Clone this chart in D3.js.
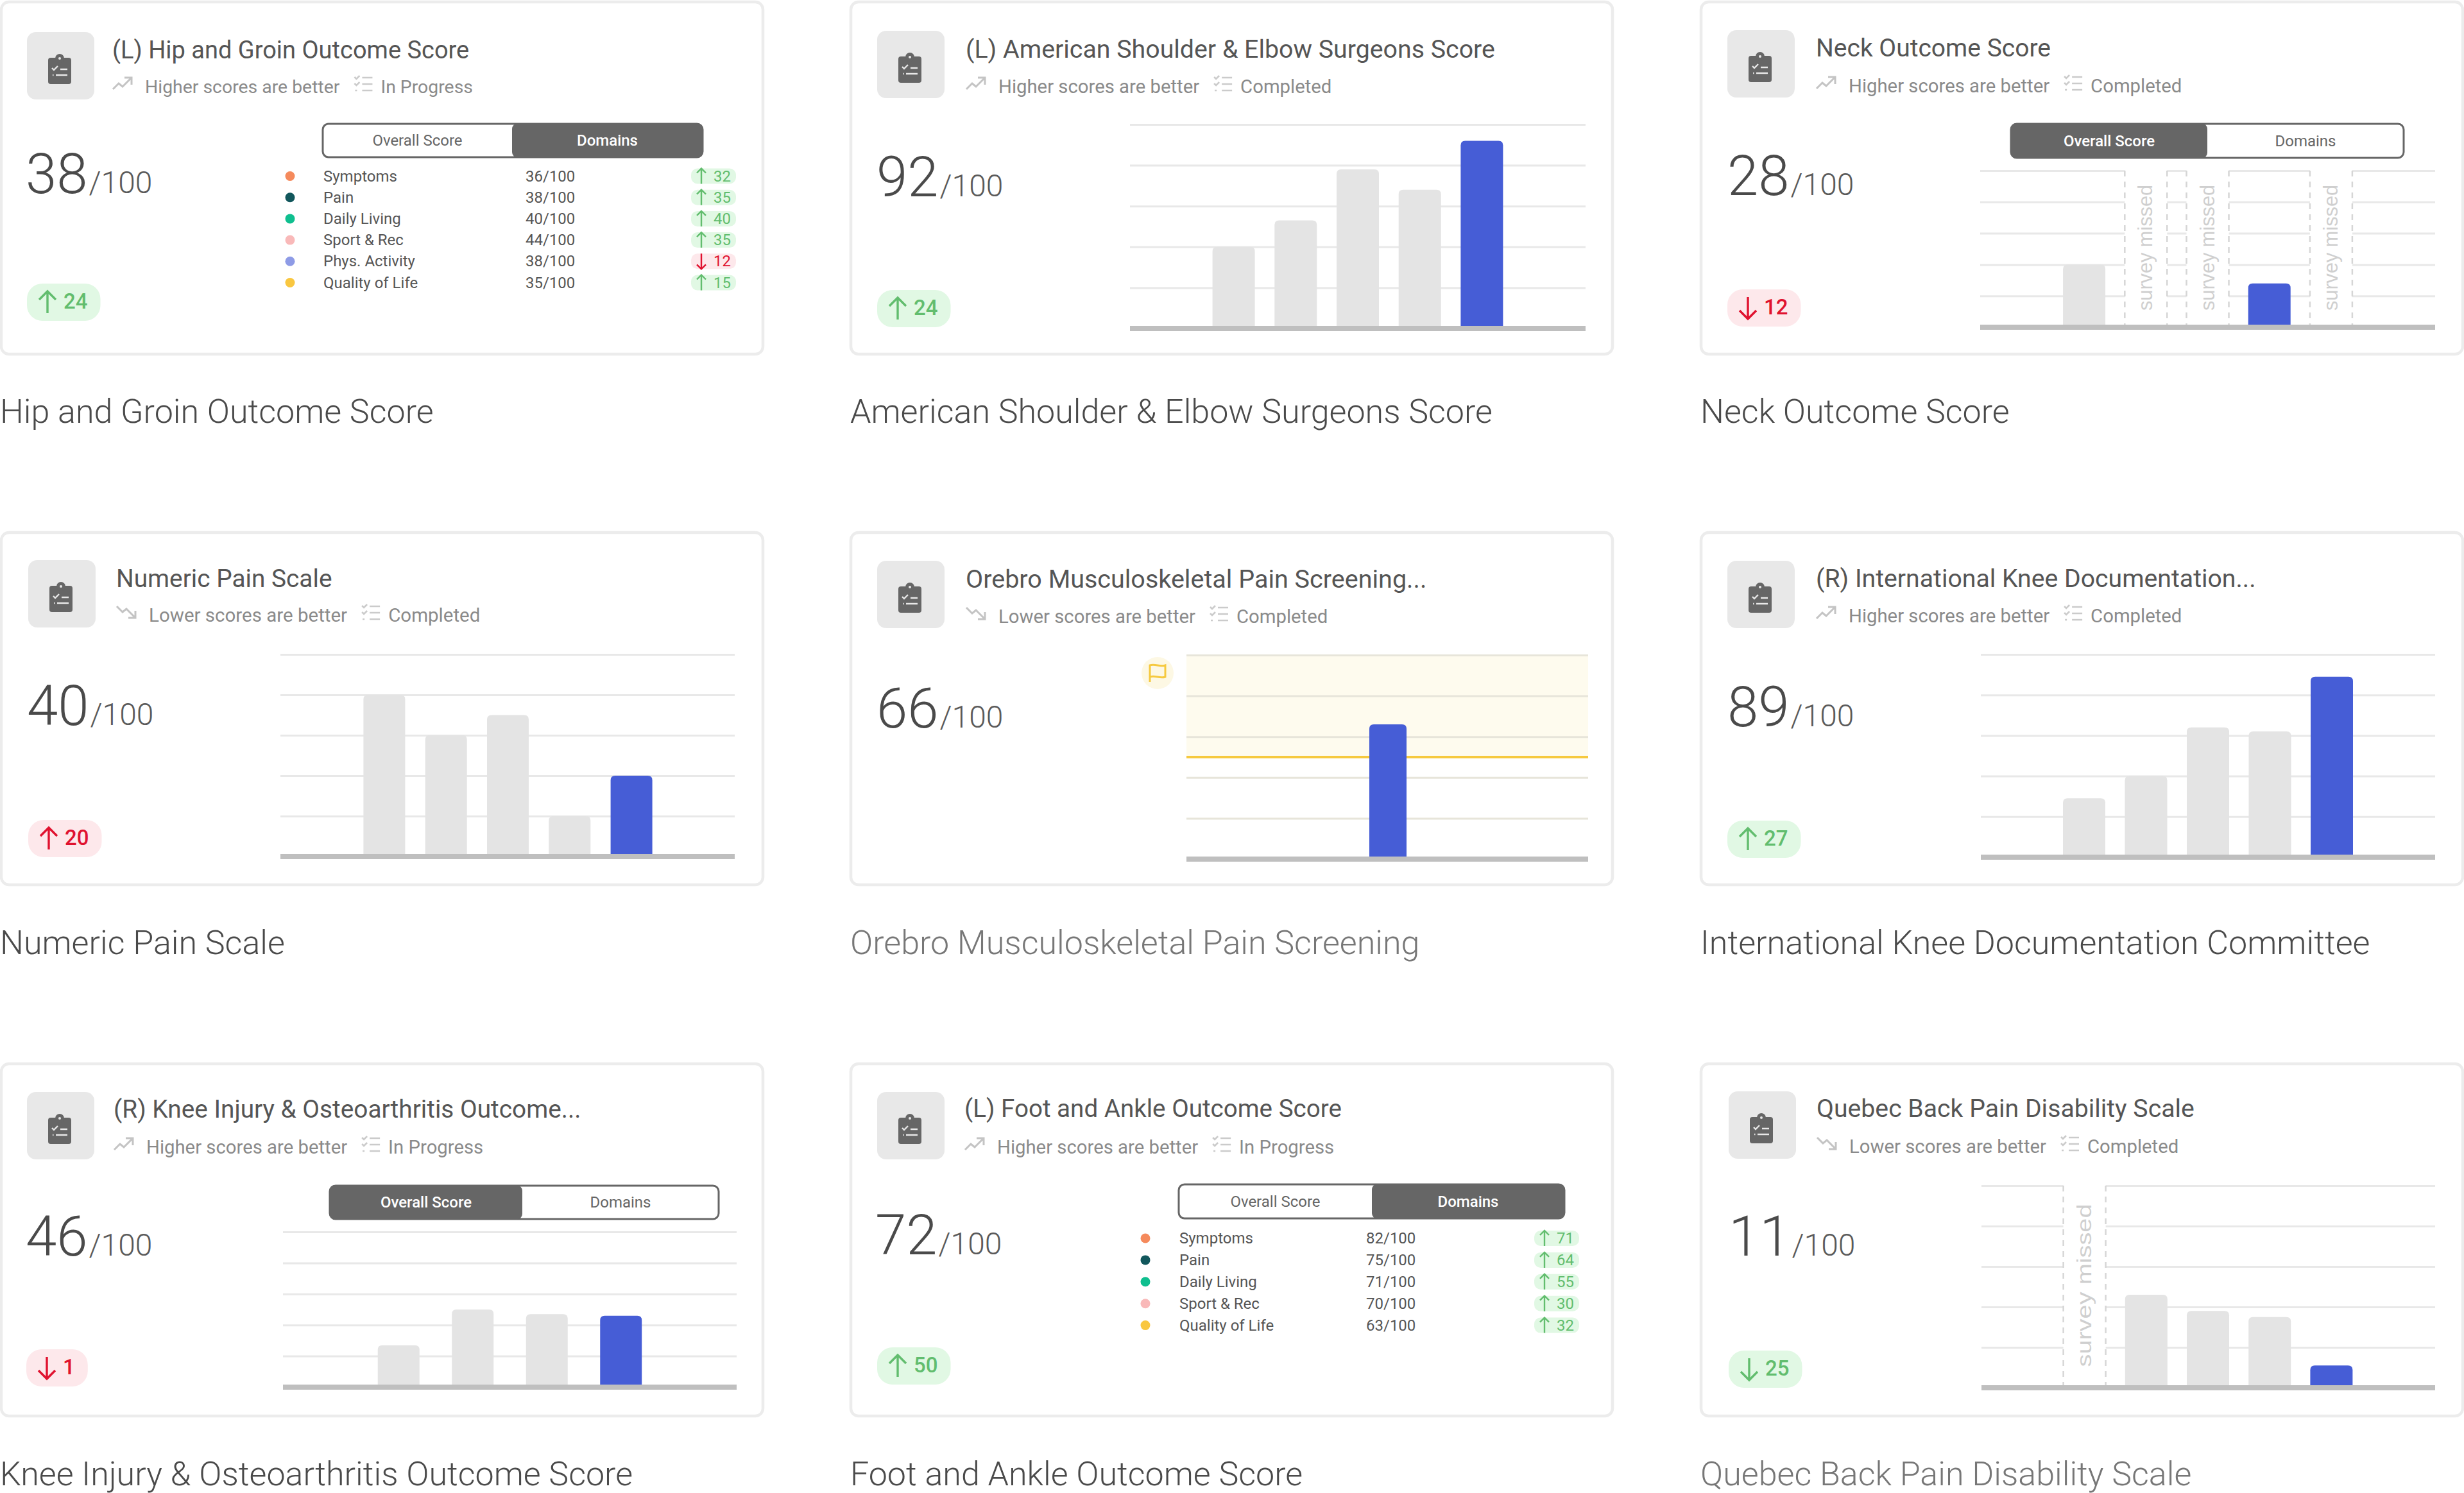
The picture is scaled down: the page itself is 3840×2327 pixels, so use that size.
<!DOCTYPE html>
<html>
<head>
<meta charset="utf-8">
<script src="https://cdn.jsdelivr.net/npm/d3@7"></script>
<style>
  html, body { margin: 0; background: #fff; }
  svg { display: block; }
  text { font-family: Roboto, sans-serif; }
</style>
</head>
<body>
<svg id="canvas" width="3840" height="2327"></svg>
<script>
// chart values
const cardTitles = ['(L) Hip and Groin Outcome Score', '(L) American Shoulder & Elbow Surgeons Score', 'Neck Outcome Score',
  'Numeric Pain Scale', 'Orebro Musculoskeletal Pain Screening...', '(R) International Knee Documentation...',
  '(R) Knee Injury & Osteoarthritis Outcome...', '(L) Foot and Ankle Outcome Score', 'Quebec Back Pain Disability Scale'];
const captions = ['Hip and Groin Outcome Score', 'American Shoulder & Elbow Surgeons Score', 'Neck Outcome Score',
  'Numeric Pain Scale', 'Orebro Musculoskeletal Pain Screening', 'International Knee Documentation Committee',
  'Knee Injury & Osteoarthritis Outcome Score', 'Foot and Ankle Outcome Score', 'Quebec Back Pain Disability Scale'];
const directions = ['Higher', 'Higher', 'Higher', 'Lower', 'Lower', 'Higher', 'Higher', 'Higher', 'Lower'];
const statuses = ['In Progress', 'Completed', 'Completed', 'Completed', 'Completed', 'Completed', 'In Progress', 'In Progress', 'Completed'];
const scores = [38, 92, 28, 40, 66, 89, 46, 72, 11];
const deltas = [24, 24, -12, 20, null, 27, -1, 50, -25];
const toggles = ['Domains', null, 'Overall Score', null, null, null, 'Overall Score', 'Domains', null];

// null = survey missed
const barSeries = [
  null,
  [40, 53, 78, 68, 92],
  [40, null, null, 28, null],
  [80, 60, 70, 20, 40],
  [66],
  [29, 40, 64, 62, 89],
  [27, 50, 47, 46],
  null,
  [null, 46, 38, 35, 11]
];
const gridTicks = [20, 40, 60, 80, 100];
const flagThreshold = 50;

const hipDomains = ['Symptoms', 'Pain', 'Daily Living', 'Sport & Rec', 'Phys. Activity', 'Quality of Life'];
const hipScores = [36, 38, 40, 44, 38, 35];
const hipDeltas = [32, 35, 40, 35, -12, 15];
const footDomains = ['Symptoms', 'Pain', 'Daily Living', 'Sport & Rec', 'Quality of Life'];
const footScores = [82, 75, 71, 70, 63];
const footDeltas = [71, 64, 55, 30, 32];

const domainColor = d3.scaleOrdinal()
  .domain(hipDomains)
  .range(['#f58a5c', '#12575c', '#0fbf8f', '#f9b9b9', '#8e9be6', '#f9c740']);

// where things sit on the page, one row per card
const cardBoxes = [[2, 3], [1326, 3], [2651, 3], [2, 830], [1326, 830], [2651, 830], [2, 1658], [1326, 1658], [2651, 1658]];
const cardSize = [1187, 549];
const iconPos = [[42, 50], [1367, 48], [2692, 47], [44, 873], [1367, 874], [2692, 874], [42, 1702], [1367, 1702], [2694, 1701]];
const titlePos = [[175, 78], [1505, 77], [2830, 75], [181, 902], [1505, 903], [2830, 902], [177, 1729], [1503, 1728], [2831, 1728]];
const titleSize = [38, 39.3, 39, 38.8, 39.5, 39.2, 38.8, 38.6, 39.2];
const subSize = [28.4, 29.3, 29.3, 29.5, 29.3, 29.3, 29.3, 29.3, 29.3];
const subY = [135, 135, 134, 959, 961, 960, 1788, 1788, 1787];
const scorePos = [[40, 301], [1366, 306], [2692, 304], [42, 1130], [1366, 1134], [2692, 1132], [40, 1957], [1364, 1955], [2694, 1957]];
const badgePos = [[42, 442], [1367, 452], [2692, 451], [44, 1278], null, [2692, 1279], [41, 2103], [1367, 2100], [2694, 2105]];
const plots = [
  null,
  { x: [1761, 2471], y: [512, 194], center: 2116, step: 96.7, bar: 66 },
  { x: [3086, 3795], y: [510, 266], center: 3440.5, step: 96.2, bar: 66, missed: 196 },
  { x: [437, 1145], y: [1335, 1020], center: 791.5, step: 96.3, bar: 65 },
  { x: [1849, 2475], y: [1339, 1021], center: 2163, step: 97, bar: 58 },
  { x: [3087, 3795], y: [1336, 1020], center: 3441, step: 96.5, bar: 66 },
  { x: [441, 1148], y: [2162, 1920], center: 794.5, step: 115.5, bar: 65 },
  null,
  { x: [3088, 3795], y: [2163, 1848], center: 3441, step: 96.2, bar: 66, missed: 254 }
];
const toggleBoxes = [
  { x: [503, 1095], y: [193, 245], split: 798 }, null,
  { x: [3134, 3746], y: [193, 246], split: 3440 }, null, null, null,
  { x: [514, 1120], y: [1848, 1900], split: 814 },
  { x: [1837, 2438], y: [1846, 1899], split: 2138 }, null
];
const domainTables = [
  { names: hipDomains, scores: hipScores, deltas: hipDeltas, dot: 452, label: 504, score: 819, badge: 1077, top: 274.5, step: 33.2 },
  null, null, null, null, null, null,
  { names: footDomains, scores: footScores, deltas: footDeltas, dot: 1785, label: 1838, score: 2129, badge: 2391, top: 1930, step: 33.9 },
  null
];

const GOOD = { fg: '#62bd6e', bg: '#e1f8e4' };
const BAD = { fg: '#e0122f', bg: '#fde8eb' };

const svg = d3.select('#canvas');

function drawClipboard(g, x, y) {
  g.append('rect').attr('x', x).attr('y', y).attr('width', 105).attr('height', 105).attr('rx', 14).attr('fill', '#e8e8e8');
  g.append('rect').attr('x', x + 33).attr('y', y + 40).attr('width', 36).attr('height', 41).attr('rx', 4).attr('fill', '#666');
  g.append('circle').attr('cx', x + 51).attr('cy', y + 41).attr('r', 7).attr('fill', '#666');
  g.append('circle').attr('cx', x + 51).attr('cy', y + 41).attr('r', 2).attr('fill', '#e8e8e8');
  g.append('path')
    .attr('d', `M${x + 39},${y + 56} l3,3 l6,-6 M${x + 52},${y + 58} h11 M${x + 45},${y + 67} h18 M${x + 40},${y + 67} h1.5`)
    .attr('fill', 'none').attr('stroke', '#e8e8e8').attr('stroke-width', 2.4);
}

function drawTrend(g, x, cy, dir) {
  const flip = dir === 'Higher' ? 1 : -1;
  g.append('path')
    .attr('transform', `translate(${x},${cy - 5}) scale(1,${flip})`)
    .attr('d', 'M1,9 L10,0 L16,5 L29,-8 M19,-9 H30 V2')
    .attr('fill', 'none').attr('stroke', '#c4c4c4').attr('stroke-width', 3);
}

function drawListIcon(g, x, cy) {
  g.append('path')
    .attr('transform', `translate(${x},${cy - 5})`)
    .attr('d', 'M12,-9 H28 M12,1 H28 M12,11 H28 M0,-10 l3,3 l5,-5 M0,0 l3,3 l5,-5 M1,11 h3')
    .attr('fill', 'none').attr('stroke', '#cbcbcb').attr('stroke-width', 2.6);
}

function drawArrow(g, x, yTop, yBot, up, color, head, width) {
  const d = up
    ? `M${x},${yBot} V${yTop} M${x - head},${yTop + head} L${x},${yTop} L${x + head},${yTop + head}`
    : `M${x},${yTop} V${yBot} M${x - head},${yBot - head} L${x},${yBot} L${x + head},${yBot - head}`;
  g.append('path').attr('d', d).attr('fill', 'none').attr('stroke', color).attr('stroke-width', width);
}

function drawScore(g, i) {
  const [x, y] = scorePos[i];
  const big = g.append('text').attr('x', x).attr('y', y).attr('font-size', 87).attr('font-weight', 300)
    .attr('fill', '#4a4a4a').text(scores[i]);
  g.append('text').attr('x', x + big.node().getComputedTextLength() + 2).attr('y', y)
    .attr('font-size', 48).attr('font-weight', 300).attr('fill', '#5a5a5a').text('/100');
}

function drawBadge(g, i) {
  if (deltas[i] === null) return;
  const [x, y] = badgePos[i];
  const up = deltas[i] > 0;
  const good = (directions[i] === 'Higher') === up;
  const tone = good ? GOOD : BAD;
  const bg = g.append('rect').attr('x', x).attr('y', y).attr('height', 58).attr('rx', 24).attr('fill', tone.bg);
  drawArrow(g, x + 32, y + 12, y + 46, up, tone.fg, 13, 3.4);
  const label = g.append('text').attr('x', x + 57).attr('y', y + 39).attr('font-size', 33).attr('font-weight', 500)
    .attr('fill', tone.fg).text(Math.abs(deltas[i]));
  bg.attr('width', 57 + label.node().getComputedTextLength() + 20);
}

function drawToggle(g, i) {
  const box = toggleBoxes[i];
  if (!box) return;
  const [x0, x1] = box.x, [y0, y1] = box.y;
  const active = toggles[i];
  g.append('rect').attr('x', x0).attr('y', y0).attr('width', x1 - x0).attr('height', y1 - y0).attr('rx', 9)
    .attr('fill', '#fff').attr('stroke', '#666').attr('stroke-width', 3);
  const ax = active === 'Domains' ? box.split : x0;
  const aw = active === 'Domains' ? x1 - box.split : box.split - x0;
  g.append('rect').attr('x', ax).attr('y', y0 - 1).attr('width', aw).attr('height', y1 - y0 + 2).attr('rx', 9).attr('fill', '#666');
  [['Overall Score', (x0 + box.split) / 2], ['Domains', (box.split + x1) / 2]].forEach(([name, cx]) => {
    g.append('text').attr('x', cx).attr('y', (y0 + y1) / 2 + 8).attr('text-anchor', 'middle').attr('font-size', 24)
      .attr('font-weight', name === active ? 500 : 400)
      .attr('fill', name === active ? '#fff' : '#666').text(name);
  });
}

function drawDomains(g, t) {
  t.names.forEach((name, k) => {
    const cy = t.top + k * t.step;
    g.append('circle').attr('cx', t.dot).attr('cy', cy).attr('r', 7.5).attr('fill', domainColor(name));
    g.append('text').attr('x', t.label).attr('y', cy + 8).attr('font-size', 24).attr('fill', '#555').text(name);
    g.append('text').attr('x', t.score).attr('y', cy + 8).attr('font-size', 24).attr('fill', '#555').text(t.scores[k] + '/100');
    const up = t.deltas[k] > 0;
    const tone = up ? GOOD : BAD;
    g.append('rect').attr('x', t.badge).attr('y', cy - 12).attr('width', 70).attr('height', 24).attr('rx', 10).attr('fill', tone.bg);
    drawArrow(g, t.badge + 16, cy - 12, cy + 12, up, tone.fg, 7, 2.4);
    g.append('text').attr('x', t.badge + 35).attr('y', cy + 8).attr('font-size', 24).attr('fill', tone.fg).text(Math.abs(t.deltas[k]));
  });
}

function drawBars(g, i) {
  const p = plots[i];
  const values = barSeries[i];
  if (!p) return;
  const y = d3.scaleLinear().domain([0, 100]).range(p.y);
  const n = values.length;
  const pad = 1 - p.bar / p.step;
  const x = d3.scaleBand().domain(d3.range(n))
    .range([p.center - n * p.step / 2, p.center + n * p.step / 2])
    .paddingInner(pad).paddingOuter(pad / 2);

  if (i === 4) {
    g.append('rect').attr('x', p.x[0]).attr('y', y(100)).attr('width', p.x[1] - p.x[0])
      .attr('height', y(flagThreshold) - y(100)).attr('fill', '#fefbee');
  }

  const axis = g.append('g').attr('transform', `translate(${p.x[0]},0)`)
    .call(d3.axisRight(y).tickValues(gridTicks).tickSize(p.x[1] - p.x[0]).tickFormat(''));
  axis.select('.domain').remove();
  axis.selectAll('line').attr('stroke', i === 4 ? '#e7e5da' : '#e8e8e8').attr('stroke-width', 3);

  if (i === 4) {
    g.append('line').attr('x1', p.x[0]).attr('x2', p.x[1]).attr('y1', y(flagThreshold)).attr('y2', y(flagThreshold))
      .attr('stroke', '#f6c93f').attr('stroke-width', 4);
    g.append('circle').attr('cx', 1804).attr('cy', y(100) + 28).attr('r', 25).attr('fill', '#fdf8e4');
    g.append('path').attr('transform', `translate(1792,${y(100) + 14})`)
      .attr('d', 'M0,28 V2 C8,-1 16,5 24,2 V20 C16,23 8,17 0,20')
      .attr('fill', 'none').attr('stroke', '#f6c93f').attr('stroke-width', 3);
  }

  // missed slots blank out the grid behind them
  values.forEach((v, k) => {
    if (v !== null) return;
    const x0 = x(k), x1 = x(k) + x.bandwidth();
    g.append('rect').attr('x', x0).attr('y', y(100) - 3).attr('width', x.bandwidth()).attr('height', y(0) - y(100))
      .attr('fill', '#fff');
    [x0, x1].forEach(lx => {
      g.append('line').attr('x1', lx).attr('x2', lx).attr('y1', y(100)).attr('y2', y(0))
        .attr('stroke', '#d6d6d6').attr('stroke-width', 2.5).attr('stroke-dasharray', '9 8');
    });
    const cx = (x0 + x1) / 2, cy = (y(100) + y(0)) / 2 - 2;
    g.append('text').attr('transform', `translate(${cx + 10},${cy}) rotate(-90)`)
      .attr('text-anchor', 'middle').style('font-family', 'Liberation Sans').attr('font-size', 32)
      .attr('fill', '#cfcfcf').attr('textLength', p.missed).attr('lengthAdjust', 'spacingAndGlyphs').text('survey missed');
  });

  const r = 7;
  const last = values.length - 1;
  g.selectAll('.bar').data(values.map((v, k) => ({ v, k })).filter(d => d.v !== null))
    .enter().append('path')
    .attr('d', d => {
      const l = x(d.k), w = x.bandwidth(), top = y(d.v), bot = y(0);
      return `M${l},${bot} V${top + r} Q${l},${top} ${l + r},${top} H${l + w - r} Q${l + w},${top} ${l + w},${top + r} V${bot} Z`;
    })
    .attr('fill', d => d.k === last || values[d.k] === scores[i] ? '#465dd6' : '#e4e4e4');

  g.append('line').attr('x1', p.x[0]).attr('x2', p.x[1]).attr('y1', y(0)).attr('y2', y(0))
    .attr('stroke', '#bfbfbf').attr('stroke-width', 8);
}

cardTitles.forEach((title, i) => {
  const g = svg.append('g');
  const [bx, by] = cardBoxes[i];
  g.append('rect').attr('x', bx).attr('y', by).attr('width', cardSize[0]).attr('height', cardSize[1]).attr('rx', 12)
    .attr('fill', '#fff').attr('stroke', '#ececec').attr('stroke-width', 4.5);

  drawClipboard(g, iconPos[i][0], iconPos[i][1]);

  const [tx, ty] = titlePos[i];
  g.append('text').attr('x', tx).attr('y', ty + 13).attr('font-size', titleSize[i]).attr('fill', '#555').text(title);

  const sy = subY[i];
  drawTrend(g, tx, sy, directions[i]);
  const sub = g.append('text').attr('x', tx + 51).attr('y', sy + 10).attr('font-size', subSize[i]).attr('fill', '#8a8a8a')
    .text(directions[i] + ' scores are better');
  const subEnd = tx + 51 + sub.node().getComputedTextLength();
  drawListIcon(g, subEnd + 23, sy);
  g.append('text').attr('x', subEnd + 64).attr('y', sy + 10).attr('font-size', subSize[i]).attr('fill', '#8a8a8a').text(statuses[i]);

  drawScore(g, i);
  drawBadge(g, i);
  drawToggle(g, i);
  if (domainTables[i]) drawDomains(g, domainTables[i]);
  drawBars(g, i);

  g.append('text').attr('x', i % 3 === 0 ? 0 : bx - 1).attr('y', 659 + Math.floor(i / 3) * 828)
    .attr('font-size', 52).attr('font-weight', 300)
    .attr('fill', i === 4 || i === 8 ? '#777' : '#4a4a4a').text(captions[i]);
});
</script>
</body>
</html>
